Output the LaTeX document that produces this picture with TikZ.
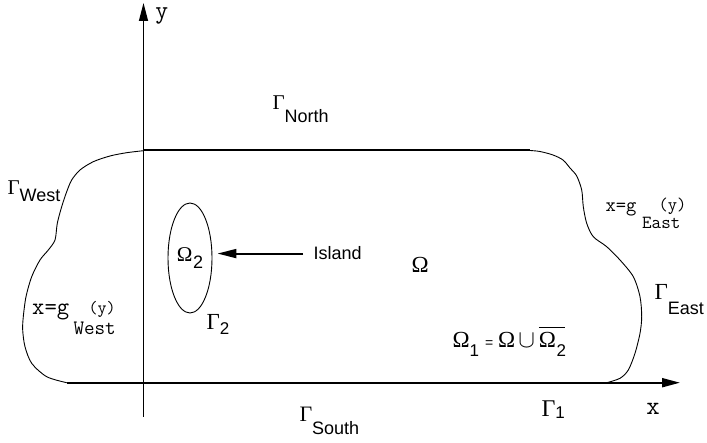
\documentclass[tikz,border=0pt]{standalone}
\usepackage{fontspec}
\setmainfont{Liberation Serif}
\setsansfont{Liberation Sans}
\usetikzlibrary{arrows.meta, shapes.geometric}
\newcommand{\lowsub}[2]{\raisebox{-#1}{\sffamily #2}}
\tikzset{
  every picture/.style={x=1pt, y=-1pt, line width=1pt},
  lbl/.style={inner sep=0pt, anchor=base west, font=\fontsize{21}{21}\selectfont},
  mono/.style={lbl, font=\ttfamily\fontsize{#1}{#1}\selectfont},
  mono/.default=20,
  axis/.style={-{Triangle[length=18pt, width=9pt]}, line width=1.4pt},
  edge/.style={line width=2pt},
  bound/.style={line width=0.9pt, line join=round},
  arrow/.style={-{Triangle[length=19pt, width=9pt]}, line width=2pt, shorten >=5pt},
}
\begin{document}
\begin{tikzpicture}
  \useasboundingbox (0,0) rectangle (707,443);
  % axes
  \coordinate (yfoot) at (143.5,417);
  \coordinate (ytip) at (143.5,3);
  \coordinate (xfoot) at (66.7,382.7);
  \coordinate (xtip) at (680,382.7);
  \draw[axis] (yfoot) -- (ytip);
  \draw[axis, line width=2pt] (xfoot) -- (xtip);
  \node[mono=25, anchor=base] (ylab) at (161.7,19) {y};
  \node[mono=26, anchor=base] (xlab) at (653,415) {x};
  % domain boundary
  \coordinate (nw) at (143.5,150.5);
  \coordinate (ne) at (530,150.5);
  \draw[edge] (nw) -- (ne);
  \draw[bound] plot[smooth, tension=0.5] coordinates {(143.5,150.7) (126.7,152.7) (110,156)
    (93.3,161.7) (80,170) (71.7,180) (66.7,191.7) (61.7,206.7) (57.3,223.3) (55,240)
    (48.3,250) (40,260) (31.7,276.7) (26,296.7) (23.3,316.7) (22.7,330) (25,346.7)
    (31.7,363.3) (46.7,376.7) (66.7,382.7)};
  \draw[bound] plot[smooth, tension=0.5] coordinates {(530,150.5) (540,151.5) (553,155)
    (563,160) (570,168) (576.7,176) (581.7,190) (583.3,206.7) (586.7,223.3) (593.3,236.7)
    (606.7,246.7) (620,260) (633.3,276.7) (640,296.7) (641.7,316.7) (640,333.3)
    (635,353.3) (628.3,370) (620,378.3) (606.7,382.7)};
  % island
  \node[draw, ellipse, line width=0.9pt, minimum width=44pt, minimum height=110pt, inner sep=0pt,
    font=\fontsize{21}{21}\selectfont] (omegatwo) at (190,258) {Ω\kern0.5pt\lowsub{7pt}{\fontsize{18}{18}\selectfont 2}};
  \node[lbl, font=\sffamily\fontsize{18}{18}\selectfont, inner xsep=10pt] (island) at (303,260) {Island};
  \draw[arrow] (island.west) -- (island.west -| omegatwo.east);
  \node[lbl, font=\fontsize{23}{23}\selectfont] (gtwo) at (206,330) {Γ\lowsub{5pt}{\fontsize{17}{17}\selectfont 2}};
  \node[lbl, font=\fontsize{23}{23}\selectfont] (omega) at (411,273) {Ω};
  \node[lbl, font=\fontsize{23}{23}\selectfont] (omegaone) at (452,348)
    {Ω\lowsub{9pt}{\fontsize{17}{17}\selectfont 1}\kern6pt{\sffamily\fontsize{14}{14}\selectfont =}\kern5pt
     Ω\kern3pt$\cup$\kern4pt\rlap{\raisebox{20pt}{\rule{26pt}{1.3pt}}}Ω\kern0.5pt\lowsub{9pt}{\fontsize{17}{17}\selectfont 2}};
  % boundary labels
  \node[lbl] (gnorth) at (272,110) {Γ\lowsub{13pt}{\fontsize{18}{18}\selectfont North}};
  \node[lbl, font=\fontsize{22}{22}\selectfont] (gsouth) at (299,421.7) {Γ\lowsub{12.7pt}{\fontsize{18}{18}\selectfont South}};
  \node[lbl] (gwest) at (7,195) {Γ\lowsub{7pt}{\fontsize{18}{18}\selectfont West}};
  \node[lbl, font=\fontsize{23}{23}\selectfont] (geast) at (654,300) {Γ\lowsub{15pt}{\fontsize{18}{18}\selectfont East}};
  \node[lbl, font=\fontsize{24}{24}\selectfont] (gone) at (541,416.7) {Γ\lowsub{1.5pt}{\fontsize{17}{17}\selectfont 1}};
  % boundary functions
  \node[mono=24] (xwest) at (31.7,315) {x=g};
  \node[mono=17.5] (ywest) at (88,314) {(y)};
  \node[mono=20.5] (wsub) at (73,335) {West};
  \node[mono=20] (xeast) at (605,212) {x=g};
  \node[mono=18] (yeast) at (658,211) {(y)};
  \node[mono=18.5] (esub) at (641.7,229) {East};
\end{tikzpicture}
\end{document}
